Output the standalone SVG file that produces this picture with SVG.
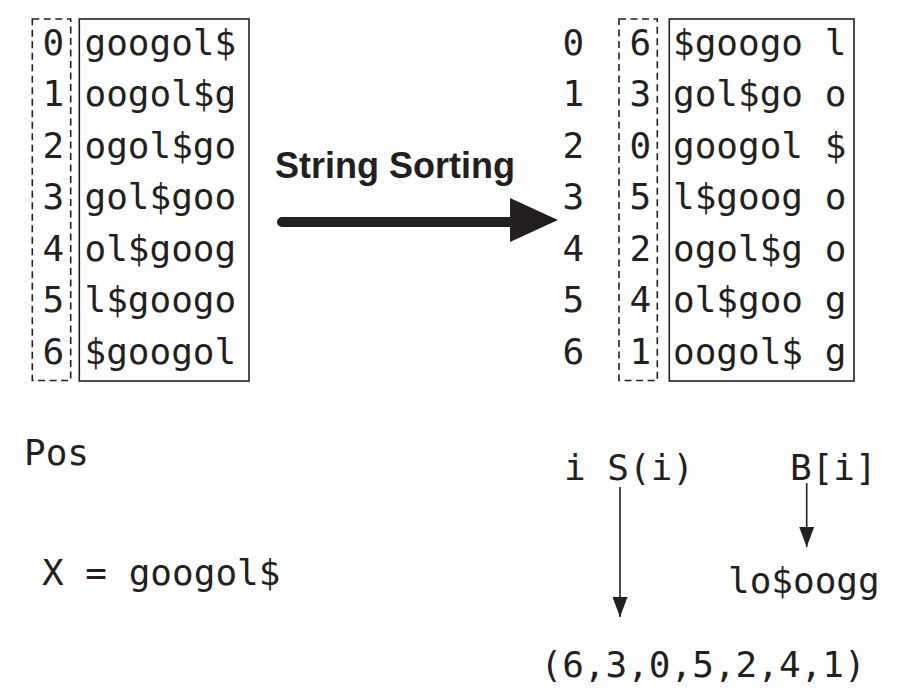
<svg xmlns="http://www.w3.org/2000/svg" width="906" height="690" viewBox="0 0 906 690">
<style>
.m{font-family:"DejaVu Sans Mono","Liberation Mono",monospace;font-size:36px;fill:#231f20}
.t{font-family:"Liberation Sans",Arial,sans-serif;font-weight:bold;font-size:36px;fill:#231f20}
.dash{fill:none;stroke:#231f20;stroke-width:1.6;stroke-dasharray:7 4.5}
.box{fill:none;stroke:#231f20;stroke-width:1.6}
.thin{stroke:#231f20;stroke-width:1.6;fill:none}
</style>
<defs>
<marker id="ah" markerWidth="20" markerHeight="15" refX="20" refY="7.5" orient="auto" markerUnits="userSpaceOnUse" viewBox="0 0 20 15">
<path d="M0,0 L20,7.5 L0,15 Z" fill="#231f20"/>
</marker>
</defs>
<rect width="906" height="690" fill="#fff"/>

<g id="left-table">
<rect class="dash" x="32.3" y="19" width="38.4" height="361.5"/>
<rect class="box" x="79.3" y="19" width="169.7" height="362"/>
<text class="m" x="42.5" y="54.5">0</text>
<text class="m" x="42.5" y="106">1</text>
<text class="m" x="42.5" y="157.5">2</text>
<text class="m" x="42.5" y="209">3</text>
<text class="m" x="42.5" y="260.5">4</text>
<text class="m" x="42.5" y="312">5</text>
<text class="m" x="42.5" y="364">6</text>
<text class="m" x="84.5" y="54.5">googol$</text>
<text class="m" x="84.5" y="106">oogol$g</text>
<text class="m" x="84.5" y="157.5">ogol$go</text>
<text class="m" x="84.5" y="209">gol$goo</text>
<text class="m" x="84.5" y="260.5">ol$goog</text>
<text class="m" x="84.5" y="312">l$googo</text>
<text class="m" x="84.5" y="364">$googol</text>
</g>

<g id="right-table">
<rect class="dash" x="619" y="19" width="38.3" height="361.5"/>
<rect class="box" x="669.3" y="19" width="184.7" height="362"/>
<text class="m" x="562.5" y="54.5">0</text>
<text class="m" x="562.5" y="106">1</text>
<text class="m" x="562.5" y="157.5">2</text>
<text class="m" x="562.5" y="209">3</text>
<text class="m" x="562.5" y="260.5">4</text>
<text class="m" x="562.5" y="312">5</text>
<text class="m" x="562.5" y="364">6</text>
<text class="m" x="629.5" y="54.5">6</text>
<text class="m" x="629.5" y="106">3</text>
<text class="m" x="629.5" y="157.5">0</text>
<text class="m" x="629.5" y="209">5</text>
<text class="m" x="629.5" y="260.5">2</text>
<text class="m" x="629.5" y="312">4</text>
<text class="m" x="629.5" y="364">1</text>
<text class="m" x="673" y="54.5">$googo l</text>
<text class="m" x="673" y="106">gol$go o</text>
<text class="m" x="673" y="157.5">googol $</text>
<text class="m" x="673" y="209">l$goog o</text>
<text class="m" x="673" y="260.5">ogol$g o</text>
<text class="m" x="673" y="312">ol$goo g</text>
<text class="m" x="673" y="364">oogol$ g</text>
</g>

<g id="sorting-label">
<text class="t" x="275" y="178">String Sorting</text>
</g>

<g id="pos"><text class="m" x="24" y="465">Pos</text></g>
<g id="x-def"><text class="m" x="42" y="585">X = googol$</text></g>
<g id="i-si"><text class="m" x="564" y="480">i S(i)</text></g>
<g id="bi"><text class="m" x="790" y="480">B[i]</text></g>
<g id="bwt"><text class="m" x="728" y="593">lo$oogg</text></g>
<g id="sa"><text class="m" x="540.5" y="677">(6,3,0,5,2,4,1)</text></g>

<g id="connectors">
<line x1="282" y1="222" x2="515" y2="222" stroke="#231f20" stroke-width="10" stroke-linecap="round"/>
<path d="M510,198 L558,220 L510,242 Z" fill="#231f20"/>
<line class="thin" x1="620" y1="487" x2="620" y2="617" marker-end="url(#ah)"/>
<line class="thin" x1="806.7" y1="483" x2="806.7" y2="547" marker-end="url(#ah)"/>
</g>
</svg>
